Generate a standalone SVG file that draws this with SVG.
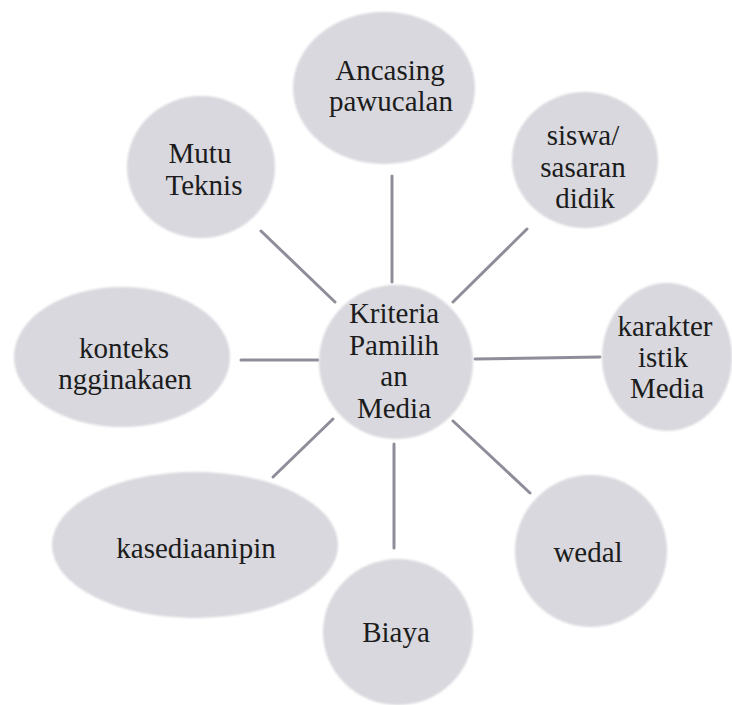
<svg xmlns="http://www.w3.org/2000/svg" width="732" height="705" viewBox="0 0 732 705">
  <style>
    .node ellipse { fill: #d8d8de; filter: url(#soft); }
    .node text { font-family: "Times New Roman", Times, "Liberation Serif", "DejaVu Serif", serif; font-size: 29px; fill: #1c1c1c; text-anchor: middle; }
    .edges line { stroke: #8e8e9a; stroke-width: 3; stroke-linecap: round; }
  </style>
  <defs>
    <filter id="soft" x="-10%" y="-10%" width="120%" height="120%">
      <feGaussianBlur stdDeviation="1.2"/>
    </filter>
  </defs>
  <rect width="732" height="705" fill="#ffffff"/>

  <g class="edges" id="connectors">
    <line x1="392" y1="176" x2="392" y2="282"/>
    <line x1="261" y1="231" x2="335" y2="302"/>
    <line x1="527" y1="229" x2="453" y2="302"/>
    <line x1="241" y1="360" x2="318" y2="360"/>
    <line x1="475" y1="359" x2="600" y2="357"/>
    <line x1="333" y1="419" x2="273" y2="477"/>
    <line x1="394" y1="444" x2="394" y2="548"/>
    <line x1="453" y1="421" x2="530" y2="493"/>
  </g>

  <g class="node" id="node-center">
    <ellipse cx="396" cy="362" rx="77" ry="77"/>
    <text x="394" y="323">Kriteria</text>
    <text x="394" y="355">Pamilih</text>
    <text x="394" y="386">an</text>
    <text x="394" y="418">Media</text>
  </g>

  <g class="node" id="node-ancasing">
    <ellipse cx="384" cy="88" rx="91" ry="76"/>
    <text x="390" y="80">Ancasing</text>
    <text x="391" y="111">pawucalan</text>
  </g>

  <g class="node" id="node-mutu">
    <ellipse cx="201" cy="167" rx="74" ry="71"/>
    <text x="200" y="163">Mutu</text>
    <text x="204" y="195">Teknis</text>
  </g>

  <g class="node" id="node-siswa">
    <ellipse cx="585" cy="160" rx="73" ry="68"/>
    <text x="583" y="145">siswa/</text>
    <text x="583" y="177">sasaran</text>
    <text x="585" y="208">didik</text>
  </g>

  <g class="node" id="node-konteks">
    <ellipse cx="122" cy="357" rx="108" ry="70"/>
    <text x="124" y="358">konteks</text>
    <text x="125" y="389">ngginakaen</text>
  </g>

  <g class="node" id="node-karakteristik">
    <ellipse cx="667" cy="357" rx="65" ry="74"/>
    <text x="665" y="336">karakter</text>
    <text x="663" y="367">istik</text>
    <text x="667" y="398">Media</text>
  </g>

  <g class="node" id="node-kasediaan">
    <ellipse cx="195" cy="545" rx="143" ry="73"/>
    <text x="196" y="558">kasediaanipin</text>
  </g>

  <g class="node" id="node-biaya">
    <ellipse cx="398" cy="632" rx="75" ry="73"/>
    <text x="396" y="642">Biaya</text>
  </g>

  <g class="node" id="node-wedal">
    <ellipse cx="591" cy="551" rx="76" ry="76"/>
    <text x="588" y="562">wedal</text>
  </g>
</svg>
